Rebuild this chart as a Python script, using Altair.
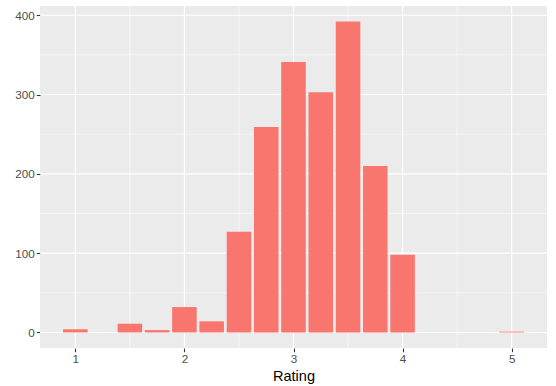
import altair as alt
import pandas as pd

ratings = [1.0, 1.5, 1.75, 2.0, 2.25, 2.5, 2.75, 3.0, 3.25, 3.5, 3.75, 4.0, 5.0]
counts = [4, 11, 3, 32, 14, 127, 259, 341, 303, 392, 210, 98, 1]

x_major = [1, 2, 3, 4, 5]
x_minor = [1.5, 2.5, 3.5, 4.5]
y_major = [0, 100, 200, 300, 400]
y_minor = [50, 150, 250, 350]

bar_w = 0.225
xdom = [0.676, 5.324]
ydom = [-19.6, 411.6]

df = pd.DataFrame({"Rating": ratings, "count": counts})

xs = alt.Scale(domain=xdom, nice=False, zero=False)
ys = alt.Scale(domain=ydom, nice=False, zero=False)

font = "Liberation Sans"

xaxis = alt.Axis(values=x_major, format="d", grid=False, domain=False,
                 tickColor="#333333", tickSize=3.7, tickWidth=1.1,
                 labelColor="#4D4D4D", labelFontSize=11.7, labelFont=font,
                 labelPadding=2, titleFont=font, titleFontSize=14.5,
                 titleFontWeight="normal", titleColor="black", titlePadding=4)
yaxis = alt.Axis(values=y_major, grid=False, domain=False,
                 tickColor="#333333", tickSize=3.7, tickWidth=1.1,
                 labelColor="#4D4D4D", labelFontSize=11.7, labelFont=font,
                 labelPadding=2)

vminor = alt.Chart(pd.DataFrame({"v": x_minor})).mark_rule(color="white", strokeWidth=0.55).encode(
    x=alt.X("v:Q", scale=xs, axis=xaxis, title="Rating"))
vmajor = alt.Chart(pd.DataFrame({"v": x_major})).mark_rule(color="white", strokeWidth=1.1).encode(
    x=alt.X("v:Q", scale=xs, axis=xaxis, title="Rating"))
hminor = alt.Chart(pd.DataFrame({"v": y_minor})).mark_rule(color="white", strokeWidth=0.55).encode(
    y=alt.Y("v:Q", scale=ys, axis=yaxis, title=None))
hmajor = alt.Chart(pd.DataFrame({"v": y_major})).mark_rule(color="white", strokeWidth=1.1).encode(
    y=alt.Y("v:Q", scale=ys, axis=yaxis, title=None))

bars = alt.Chart(df).transform_calculate(
    x0=f"datum.Rating - {bar_w/2}", x1=f"datum.Rating + {bar_w/2}"
).mark_bar(color="#F8766D").encode(
    x=alt.X("x0:Q", scale=xs, title="Rating", axis=xaxis),
    x2="x1:Q",
    y=alt.Y("count:Q", scale=ys, title=None, axis=yaxis),
    y2=alt.datum(0),
)

chart = alt.layer(vminor, hminor, vmajor, hmajor, bars).properties(
    width=507, height=342,
    autosize=alt.AutoSizeParams(type="none"),
    padding={"left": 40, "top": 6, "right": 9, "bottom": 38},
    background="white",
).configure_view(fill="#EBEBEB", stroke=None)

chart.save("out.html", embed_options={"renderer": "svg", "actions": False})
